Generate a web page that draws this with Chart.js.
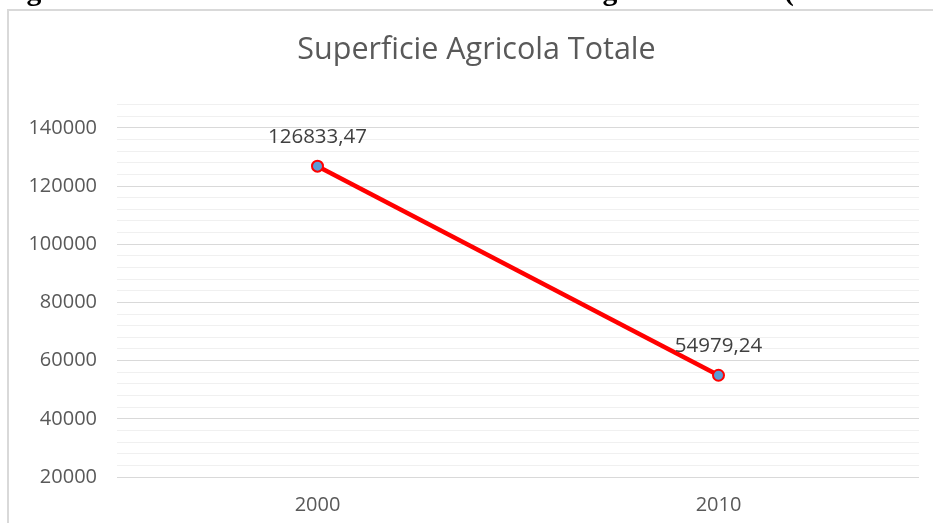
<!DOCTYPE html>
<html>
<head>
<meta charset="utf-8">
<script src="https://cdn.jsdelivr.net/npm/chart.js@4/dist/chart.umd.min.js"></script>
<style>
  html, body { margin: 0; padding: 0; background: #fff; overflow: hidden; }
  body { width: 933px; height: 523px; position: relative; }
  #heading {
    position: absolute; left: 0; top: -25px; white-space: nowrap;
    font: bold 29.7px "Liberation Serif", "Times New Roman", serif; line-height: 30px; color: #000;
    z-index: 2;
  }
  #frame {
    position: absolute; left: 7px; top: 9px; width: 1000px; height: 600px;
    border: 2px solid #d9d9d9; box-sizing: border-box;
  }
  #wrap { position: absolute; left: 0; top: 0; width: 933px; height: 523px; }
</style>
</head>
<body>
<div id="heading">Figura 6 Variazioni SAU e SAT nel GAL Montagna Vicentina (2000 – 2010)</div>
<div id="frame"></div>
<div id="wrap"><canvas id="chart" width="933" height="523"></canvas></div>
<script>
// values
const years = ['2000', '2010'];
const superficieTotale = [126833.47, 54979.24];
const yMin = 20000;
const yMax = 148000;
const majorStep = 20000;
const minorStep = 4000;

const fmt = v => v.toFixed(2).replace('.', ',');

// writes the value above each point
const pointLabels = {
  id: 'pointLabels',
  afterDatasetsDraw(chart) {
    const ctx = chart.ctx;
    const meta = chart.getDatasetMeta(0);
    ctx.save();
    ctx.font = '20.5px "Open Sans"';
    ctx.fillStyle = '#404040';
    ctx.textAlign = 'center';
    ctx.textBaseline = 'middle';
    meta.data.forEach((pt, i) => {
      ctx.fillText(fmt(superficieTotale[i]), pt.x, pt.y - 29);
    });
    ctx.restore();
  }
};

// the frame in the original is wider than the page, so the title sits a bit right of centre
const shiftTitle = {
  id: 'shiftTitle',
  afterLayout(chart) {
    if (chart.titleBlock) chart.titleBlock.left = 34;
  }
};

new Chart(document.getElementById('chart'), {
  type: 'line',
  data: {
    labels: years,
    datasets: [{
      label: 'Superficie Agricola Totale',
      data: superficieTotale,
      borderColor: '#ff0000',
      borderWidth: 4.5,
      pointRadius: 5.5,
      pointBorderWidth: 2,
      pointBackgroundColor: '#5b9bd5',
      pointBorderColor: '#ff0000',
      tension: 0
    }]
  },
  options: {
    responsive: false,
    animation: false,
    layout: { padding: { left: 0, right: 14, top: 0, bottom: 6 } },
    plugins: {
      legend: { display: false },
      tooltip: { enabled: false },
      title: {
        display: true,
        text: 'Superficie Agricola Totale',
        color: '#595959',
        font: { family: 'Open Sans', size: 30.5, weight: 'normal' },
        padding: { top: 32, bottom: 36 }
      }
    },
    scales: {
      x: {
        offset: true,
        grid: { display: false, drawTicks: false },
        border: { display: false },
        ticks: { color: '#595959', font: { family: 'Open Sans', size: 20 }, padding: 16 },
        afterFit: scale => { scale.height = 40; }
      },
      y: {
        min: yMin,
        max: yMax,
        border: { display: false },
        grid: {
          drawTicks: false,
          color: ctx => (ctx.tick && ctx.tick.value % majorStep === 0) ? '#d9d9d9' : '#f0f0f0'
        },
        ticks: {
          stepSize: minorStep,
          autoSkip: false,
          color: '#595959',
          font: { family: 'Open Sans', size: 20 },
          padding: 20,
          callback: v => (v % majorStep === 0 ? String(v) : '')
        },
        afterFit: scale => { scale.width = 117; }
      }
    }
  },
  plugins: [pointLabels, shiftTitle]
});
</script>
</body>
</html>
